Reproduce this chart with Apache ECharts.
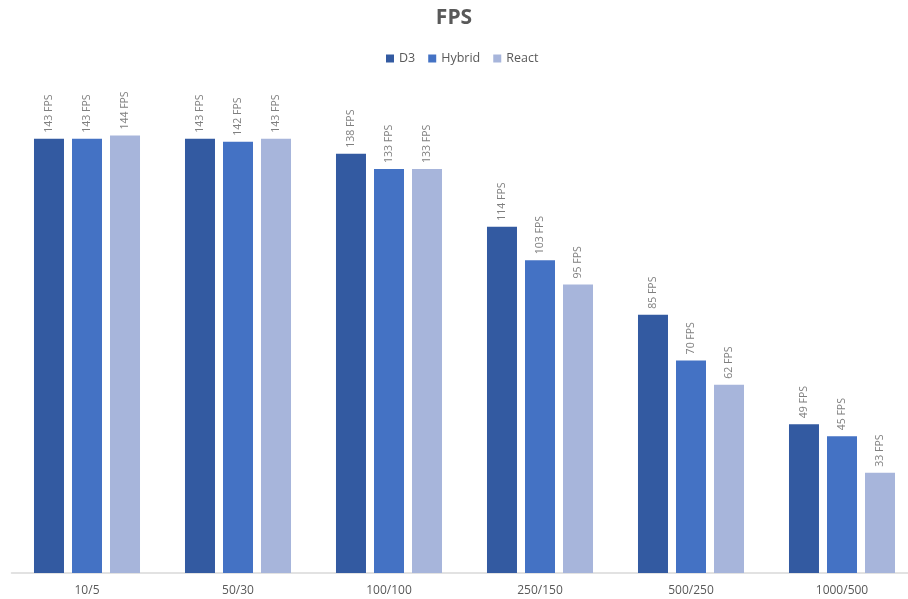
<!DOCTYPE html>
<html><head><meta charset="utf-8">
<script src="https://cdn.jsdelivr.net/npm/echarts@6/dist/echarts.min.js"></script>
<style>html,body{margin:0;padding:0;background:#fff}#c{width:908px;height:599px}</style>
</head><body><div id="c"></div>
<script>
const categories = ['10/5','50/30','100/100','250/150','500/250','1000/500'];
const d3Values = [143,143,138,114,85,49];
const hybridValues = [143,142,133,103,70,45];
const reactValues = [144,143,133,95,62,33];
const seriesNames = ['D3','Hybrid','React'];
const colors = ['#335AA1','#4472C4','#A7B5DB'];

const chart = echarts.init(document.getElementById('c'));
const font = '"Open Sans", "DejaVu Sans", sans-serif';
function mk(name, data, color){
  return {
    name, type:'bar', data, barWidth:30, barGap:'26.7%',
    itemStyle:{color},
    label:{show:true, position:'top', rotate:90, align:'left', verticalAlign:'middle', distance:6,
      formatter: p => p.value + ' FPS', color:'#7f7f7f', fontSize:10.5, fontFamily:font}
  };
}
chart.setOption({
  animation:false,
  title:{text:'FPS', left:'center', top:3, textStyle:{fontFamily:font, fontSize:21, fontWeight:'bold', color:'#595959'}},
  legend:{top:47, left:381, itemWidth:8, itemHeight:8, itemGap:13, icon:'rect',
    textStyle:{fontFamily:font, fontSize:12.5, color:'#595959'}, data:seriesNames},
  grid:{left:11.5, right:-9.5, top:87, bottom:26, containLabel:false, outerBoundsMode:'none'},
  xAxis:{type:'category', data:categories,
    axisLine:{lineStyle:{color:'#d9d9d9', width:1.5}}, axisTick:{show:false},
    axisLabel:{color:'#595959', fontSize:12, fontFamily:font, margin:12}},
  yAxis:{type:'value', min:0, max:160, show:false, splitLine:{show:false}},
  series:[mk(seriesNames[0], d3Values, colors[0]), mk(seriesNames[1], hybridValues, colors[1]), mk(seriesNames[2], reactValues, colors[2])]
});
</script></body></html>
